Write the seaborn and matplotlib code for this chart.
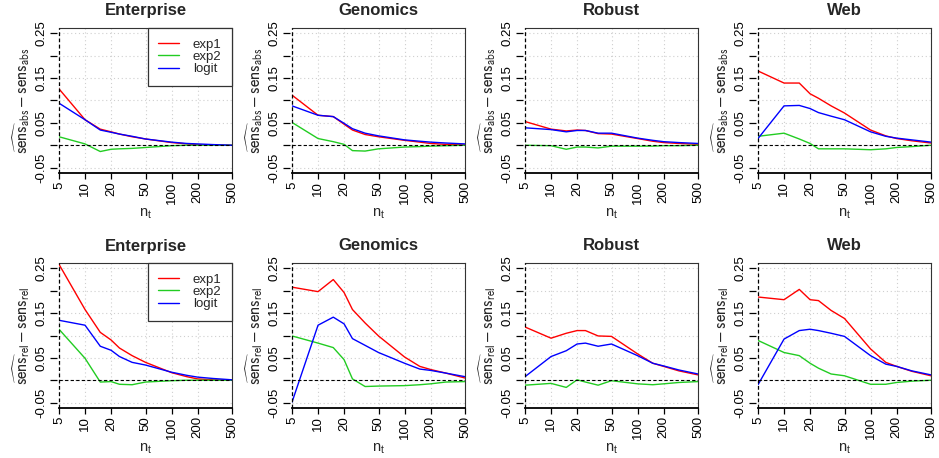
import numpy as np
import pandas as pd
import matplotlib
matplotlib.use("Agg")
import matplotlib.pyplot as plt
from matplotlib.lines import Line2D
import matplotlib.ticker as mticker
import seaborn as sns

# ---------------- data ----------------
n_t = [5, 10, 15, 20, 25, 35, 50, 100, 150, 200, 300, 500]
datasets = ["Enterprise", "Genomics", "Robust", "Web"]
methods = ["exp1", "exp2", "logit"]

# top row: abs
abs_ent_exp1 = [0.126, 0.057, 0.036, 0.030, 0.025, 0.019, 0.014, 0.006, 0.003, 0.001, 0.0005, 0.0]
abs_ent_exp2 = [0.019, 0.003, -0.014, -0.009, -0.008, -0.007, -0.005, -0.001, 0.0, 0.0, 0.0, 0.0]
abs_ent_logit = [0.094, 0.057, 0.034, 0.029, 0.025, 0.020, 0.014, 0.007, 0.004, 0.003, 0.0015, 0.0]

abs_gen_exp1 = [0.112, 0.067, 0.064, 0.047, 0.034, 0.024, 0.019, 0.011, 0.007, 0.004, 0.002, 0.001]
abs_gen_exp2 = [0.051, 0.015, 0.008, 0.002, -0.012, -0.013, -0.008, -0.004, -0.003, -0.002, -0.001, 0.0]
abs_gen_logit = [0.088, 0.067, 0.064, 0.049, 0.037, 0.027, 0.021, 0.012, 0.009, 0.007, 0.005, 0.003]

abs_rob_exp1 = [0.053, 0.036, 0.032, 0.034, 0.033, 0.026, 0.025, 0.015, 0.009, 0.006, 0.004, 0.002]
abs_rob_exp2 = [0.0, -0.001, -0.009, -0.004, -0.004, -0.006, -0.002, -0.002, -0.002, -0.001, -0.001, 0.0]
abs_rob_logit = [0.039, 0.035, 0.030, 0.033, 0.033, 0.027, 0.027, 0.016, 0.011, 0.008, 0.006, 0.004]

abs_web_exp1 = [0.166, 0.139, 0.139, 0.115, 0.105, 0.088, 0.072, 0.034, 0.021, 0.015, 0.010, 0.005]
abs_web_exp2 = [0.020, 0.027, 0.014, 0.004, -0.008, -0.008, -0.008, -0.010, -0.008, -0.005, -0.003, 0.0]
abs_web_logit = [0.015, 0.088, 0.089, 0.082, 0.073, 0.065, 0.057, 0.030, 0.020, 0.016, 0.012, 0.007]

# bottom row: rel
rel_ent_exp1 = [0.259, 0.158, 0.107, 0.090, 0.072, 0.055, 0.040, 0.017, 0.008, 0.003, 0.001, 0.0]
rel_ent_exp2 = [0.114, 0.049, -0.004, -0.003, -0.009, -0.010, -0.004, -0.001, 0.0, 0.0, 0.0, 0.0]
rel_ent_logit = [0.134, 0.123, 0.076, 0.067, 0.053, 0.040, 0.034, 0.018, 0.011, 0.007, 0.004, 0.001]

rel_gen_exp1 = [0.208, 0.198, 0.225, 0.196, 0.158, 0.128, 0.099, 0.052, 0.031, 0.024, 0.016, 0.005]
rel_gen_exp2 = [0.099, 0.083, 0.073, 0.046, 0.003, -0.014, -0.013, -0.012, -0.010, -0.008, -0.004, -0.003]
rel_gen_logit = [-0.049, 0.123, 0.141, 0.126, 0.093, 0.078, 0.062, 0.038, 0.025, 0.022, 0.016, 0.008]

rel_rob_exp1 = [0.119, 0.094, 0.105, 0.111, 0.111, 0.099, 0.098, 0.059, 0.038, 0.031, 0.021, 0.012]
rel_rob_exp2 = [-0.011, -0.007, -0.016, 0.001, -0.004, -0.011, -0.001, -0.008, -0.010, -0.008, -0.005, -0.003]
rel_rob_logit = [0.008, 0.053, 0.066, 0.081, 0.083, 0.076, 0.081, 0.055, 0.038, 0.032, 0.023, 0.014]

rel_web_exp1 = [0.186, 0.180, 0.203, 0.180, 0.178, 0.156, 0.138, 0.070, 0.040, 0.031, 0.020, 0.010]
rel_web_exp2 = [0.089, 0.062, 0.055, 0.038, 0.027, 0.014, 0.010, -0.009, -0.009, -0.005, -0.002, 0.0]
rel_web_logit = [-0.010, 0.092, 0.111, 0.114, 0.111, 0.105, 0.098, 0.055, 0.036, 0.031, 0.021, 0.012]

x_ticks = [5, 10, 20, 50, 100, 200, 500]
y_ticks = [-0.05, 0.0, 0.05, 0.10, 0.15, 0.20, 0.25]
y_ticklabels = ["-0.05", "", "0.05", "", "0.15", "", "0.25"]

series = {
    ("abs", "Enterprise"): (abs_ent_exp1, abs_ent_exp2, abs_ent_logit),
    ("abs", "Genomics"): (abs_gen_exp1, abs_gen_exp2, abs_gen_logit),
    ("abs", "Robust"): (abs_rob_exp1, abs_rob_exp2, abs_rob_logit),
    ("abs", "Web"): (abs_web_exp1, abs_web_exp2, abs_web_logit),
    ("rel", "Enterprise"): (rel_ent_exp1, rel_ent_exp2, rel_ent_logit),
    ("rel", "Genomics"): (rel_gen_exp1, rel_gen_exp2, rel_gen_logit),
    ("rel", "Robust"): (rel_rob_exp1, rel_rob_exp2, rel_rob_logit),
    ("rel", "Web"): (rel_web_exp1, rel_web_exp2, rel_web_logit),
}

rows = []
for (kind, ds), vals in series.items():
    for m, v in zip(methods, vals):
        for xx, yy in zip(n_t, v):
            rows.append({"kind": kind, "dataset": ds, "method": m, "n_t": xx, "value": yy})
df = pd.DataFrame(rows)

# ---------------- style ----------------
sns.set_style("white")
plt.rcParams["font.family"] = ["Liberation Sans", "DejaVu Sans"]
plt.rcParams["mathtext.fontset"] = "custom"
plt.rcParams["mathtext.rm"] = "Liberation Sans"
plt.rcParams["mathtext.it"] = "Liberation Sans:italic"
plt.rcParams["mathtext.bf"] = "Liberation Sans:bold"
plt.rcParams["ytick.alignment"] = "center"

palette = {"exp1": "#FF0000", "exp2": "#22CC22", "logit": "#0000FF"}

W, H = 939, 458
fig = plt.figure(figsize=(W / 100, H / 100), dpi=100)

lefts = [59, 292, 525, 758]
width = 173
tops = {"abs": 28, "rel": 263}
height = 145

ylabels = {
    "abs": r"$\widehat{\mathrm{sens}}_{\mathrm{abs}} - \mathrm{sens}_{\mathrm{abs}}$",
    "rel": r"$\widehat{\mathrm{sens}}_{\mathrm{rel}} - \mathrm{sens}_{\mathrm{rel}}$",
}

for kind in ["abs", "rel"]:
    for j, ds in enumerate(datasets):
        ax = fig.add_axes([lefts[j] / W, 1 - (tops[kind] + height) / H, width / W, height / H])
        sub = df[(df.kind == kind) & (df.dataset == ds)]
        ax.set_xscale("log")
        # grid
        for xt in x_ticks:
            ax.axvline(xt, color="#cfcfcf", lw=0.8, ls=(0, (1, 2.5)), zorder=0)
        for yt in y_ticks:
            ax.axhline(yt, color="#cfcfcf", lw=0.8, ls=(0, (1, 2.5)), zorder=0)
        sns.lineplot(data=sub, x="n_t", y="value", hue="method", hue_order=methods,
                     palette=palette, lw=1.0, ax=ax, legend=False, zorder=3)
        ax.axhline(0, color="black", lw=0.8, ls=(0, (3, 2)), zorder=4)
        ax.axvline(5, color="black", lw=0.9, ls=(0, (3, 2)), zorder=5, clip_on=False)
        ax.set_xlim(5, 500)
        ax.set_ylim(-0.062, 0.262)
        ax.xaxis.set_major_locator(mticker.FixedLocator(x_ticks))
        ax.xaxis.set_major_formatter(mticker.FixedFormatter([str(t) for t in x_ticks]))
        ax.xaxis.set_minor_locator(mticker.NullLocator())
        ax.yaxis.set_major_locator(mticker.FixedLocator(y_ticks))
        ax.yaxis.set_major_formatter(mticker.FixedFormatter(y_ticklabels))
        ax.tick_params(axis="x", direction="out", length=4, width=0.9, pad=2, bottom=True,
                       colors="black", labelsize=9.5, labelrotation=90)
        ax.tick_params(axis="y", direction="out", length=5, width=0.9, pad=2, left=True,
                       colors="black", labelsize=9.5, labelrotation=90)
        ax.spines["left"].set_visible(False)
        ax.spines["left"].set_position(("outward", 1.5))
        ax.spines["bottom"].set_color("black")
        ax.spines["bottom"].set_linewidth(1.3)
        for s in ["top", "right"]:
            ax.spines[s].set_color("#333333")
            ax.spines[s].set_linewidth(0.8)
        ax.set_xlabel(r"$\mathrm{n}_{\mathrm{t}}$", fontsize=10.5, labelpad=2)
        ax.set_ylabel(ylabels[kind], fontsize=12, labelpad=2, math_fontfamily="stixsans")
        ax.set_title(ds, fontsize=12, fontweight="bold", pad=9)
        if ds == "Enterprise":
            handles = [Line2D([0], [0], color=palette[m], lw=1.0) for m in methods]
            leg = ax.legend(handles, methods, loc="upper right", borderaxespad=0,
                            fontsize=9.5, frameon=True, fancybox=False, framealpha=1,
                            edgecolor="#333333", handlelength=1.6, handletextpad=1.0,
                            labelspacing=0.0, borderpad=0.8)
            leg.get_frame().set_linewidth(0.9)
            leg.set_zorder(10)

fig.savefig("out.png", dpi=100)
